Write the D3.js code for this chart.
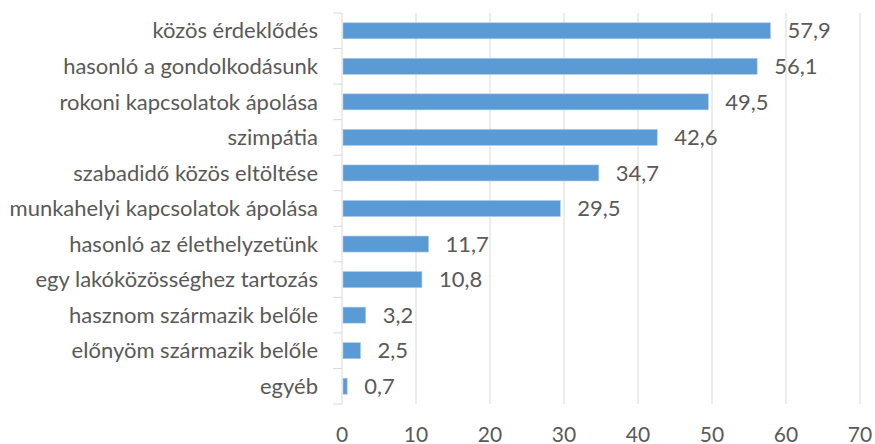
<!DOCTYPE html>
<html>
<head>
<meta charset="utf-8">
<script src="https://cdn.jsdelivr.net/npm/d3@7"></script>
<style>
  body { margin: 0; background: #fff; }
  text { font-family: Lato, "Open Sans", sans-serif; fill: #595959; }
</style>
</head>
<body>
<div id="chart"></div>
<script>
const categories = [
  "közös érdeklődés",
  "hasonló a gondolkodásunk",
  "rokoni kapcsolatok ápolása",
  "szimpátia",
  "szabadidő közös eltöltése",
  "munkahelyi kapcsolatok ápolása",
  "hasonló az élethelyzetünk",
  "egy lakóközösséghez tartozás",
  "hasznom származik belőle",
  "előnyöm származik belőle",
  "egyéb"
]
const values = [57.9, 56.1, 49.5, 42.6, 34.7, 29.5, 11.7, 10.8, 3.2, 2.5, 0.7]
const xTicks = [0, 10, 20, 30, 40, 50, 60, 70]

const width = 875, height = 444
const margin = {top: 13, right: 15, bottom: 40, left: 342}

const svg = d3.select("#chart").append("svg")
  .attr("width", width)
  .attr("height", height)

// scales
const x = d3.scaleLinear()
  .domain([0, 70])
  .range([margin.left, 860])

const y = d3.scaleBand()
  .domain(categories)
  .range([margin.top, 404])
  .paddingInner(0.55)
  .paddingOuter(0.275)

// vertical gridlines
svg.append("g")
  .selectAll("line")
  .data(xTicks.slice(1))
  .join("line")
  .attr("x1", d => x(d)).attr("x2", d => x(d))
  .attr("y1", 13).attr("y2", 404)
  .attr("stroke", "#d9d9d9")
  .attr("stroke-width", 1)

// category axis with small ticks between bands
const yAxis = svg.append("g")
  .attr("transform", "translate(" + margin.left + ",0)")
yAxis.append("line")
  .attr("x1", 0).attr("x2", 0)
  .attr("y1", 13).attr("y2", 404)
  .attr("stroke", "#d9d9d9")
const step = y.step()
yAxis.selectAll("line.tick")
  .data(d3.range(categories.length + 1))
  .join("line")
  .attr("class", "tick")
  .attr("x1", -9).attr("x2", 0)
  .attr("y1", i => 13 + i * step).attr("y2", i => 13 + i * step)
  .attr("stroke", "#d9d9d9")

yAxis.selectAll("text")
  .data(categories)
  .join("text")
  .attr("x", -24)
  .attr("y", d => y(d) + y.bandwidth() / 2)
  .attr("dy", "0.35em")
  .attr("text-anchor", "end")
  .attr("font-size", 22)
  .text(d => d)

// bars
svg.append("g")
  .selectAll("rect")
  .data(values)
  .join("rect")
  .attr("x", x(0) + 1)
  .attr("y", (d, i) => y(categories[i]))
  .attr("width", d => x(d) - x(0) - 1)
  .attr("height", y.bandwidth())
  .attr("fill", "#5b9bd5")
  .attr("stroke", "#a9c8ea")
  .attr("stroke-width", 0.6)

// value labels
svg.append("g")
  .selectAll("text")
  .data(values)
  .join("text")
  .attr("x", d => x(d) + 17)
  .attr("y", (d, i) => y(categories[i]) + y.bandwidth() / 2)
  .attr("dy", "0.35em")
  .attr("font-size", 22)
  .text(d => d3.format(".1f")(d).replace(".", ","))

// x tick labels
svg.append("g")
  .selectAll("text")
  .data(xTicks)
  .join("text")
  .attr("x", d => x(d))
  .attr("y", 442)
  .attr("text-anchor", "middle")
  .attr("font-size", 21)
  .text(d => d)
</script>
</body>
</html>
